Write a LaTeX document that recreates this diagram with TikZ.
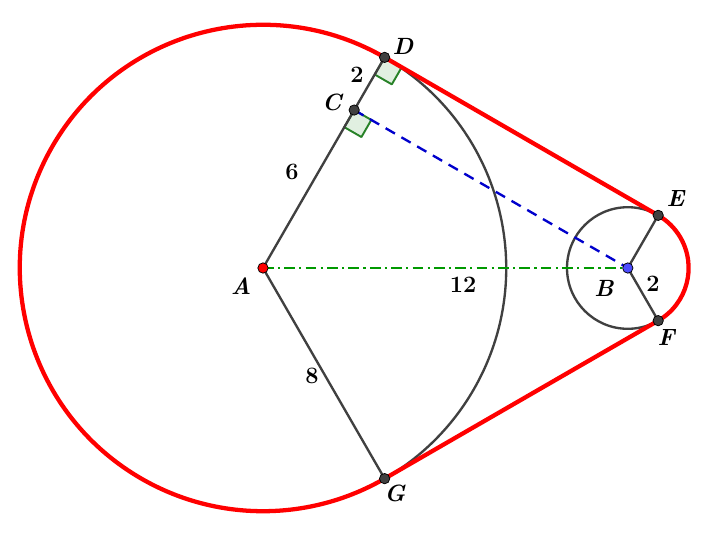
\documentclass[tikz,border=0pt]{standalone}
\usepackage{fix-cm}
\usepackage{amsmath}
\usepackage{tikz}
\usetikzlibrary{calc}
\newcommand{\bpt}[1]{\textit{#1}}
\definecolor{tanred}{RGB}{255,0,0}
\definecolor{circgray}{RGB}{64,64,64}
\definecolor{axgreen}{RGB}{0,153,0}
\definecolor{radblue}{RGB}{0,0,204}
\definecolor{mkgreen}{RGB}{40,130,40}
\definecolor{mkfill}{RGB}{225,240,225}
\definecolor{bblue}{RGB}{77,77,255}

\begin{document}
\begin{tikzpicture}[line join=round,
		pt/.style={circle,draw=black,fill=circgray,inner sep=0pt,minimum size=3.4mm,line width=0.7pt},
		lbl/.style={inner sep=1pt,font=\fontsize{22}{26}\selectfont\bfseries},
		geo/.style={circgray,line width=2.2pt},
		rangle/.style={draw=mkgreen,fill=mkfill,line width=1.8pt}]
		\useasboundingbox (-8.651,-8.914) rectangle (14.638,8.816);
		\coordinate (A) at (0,0);
		\coordinate (B) at (12,0);
		\coordinate (C) at (60:6);
		\coordinate (D) at (60:8);
		\coordinate (G) at (-60:8);
		\coordinate (E) at ($(B)+(60:2)$);
		\coordinate (F) at ($(B)+(-60:2)$);
		
		% right angle marks
		\draw[rangle,shift={(D)},rotate=-30] (0,0) rectangle (0.65,-0.65);
		\draw[rangle,shift={(C)},rotate=-30] (0,0) rectangle (0.65,-0.65);
		
		\draw[geo] (D) arc[start angle=60,end angle=-60,radius=8];
		\draw[geo] (B) circle (2);
		\draw[geo] (A) -- (D);
		\draw[geo] (A) -- (G);
		\draw[geo] (E) -- (B) -- (F);
		\draw[axgreen,line width=2.2pt,dash pattern=on 10pt off 4pt on 2pt off 4pt] (A) -- (B);
		\draw[radblue,line width=2.2pt,dash pattern=on 10pt off 7pt] (C) -- (B);
		
		% belt
		\draw[tanred,line width=4pt] (D) arc[start angle=60,end angle=300,radius=8]
			-- (F) arc[start angle=-60,end angle=60,radius=2] -- cycle;
		
		\node[pt,fill=tanred] (nA) at (A) {};
		\node[pt,fill=bblue]  (nB) at (B) {};
		\node[pt] (nC) at (C) {};
		\node[pt] (nD) at (D) {};
		\node[pt] (nE) at (E) {};
		\node[pt] (nF) at (F) {};
		\node[pt] (nG) at (G) {};
		
		\node[lbl] (lA) at (-0.72,-0.59) {\bpt{A}};
		\node[lbl] (lB) at (11.22,-0.66) {\bpt{B}};
		\node[lbl] (lC) at (2.30,5.46)   {\bpt{C}};
		\node[lbl] (lD) at (4.61,7.30)   {\bpt{D}};
		\node[lbl] (lE) at (13.59,2.27)  {\bpt{E}};
		\node[lbl] (lF) at (13.29,-2.30) {\bpt{F}};
		\node[lbl] (lG) at (4.34,-7.43)  {\bpt{G}};
		
		\node[lbl] (lCD) at (3.09,6.35)   {2};
		\node[lbl] (lAC) at (0.95,3.16)   {6};
		\node[lbl] (lAB) at (6.58,-0.56)  {12};
		\node[lbl] (lBF) at (12.83,-0.53) {2};
		\node[lbl] (lAG) at (1.61,-3.55)  {8};
\end{tikzpicture}
\end{document}
